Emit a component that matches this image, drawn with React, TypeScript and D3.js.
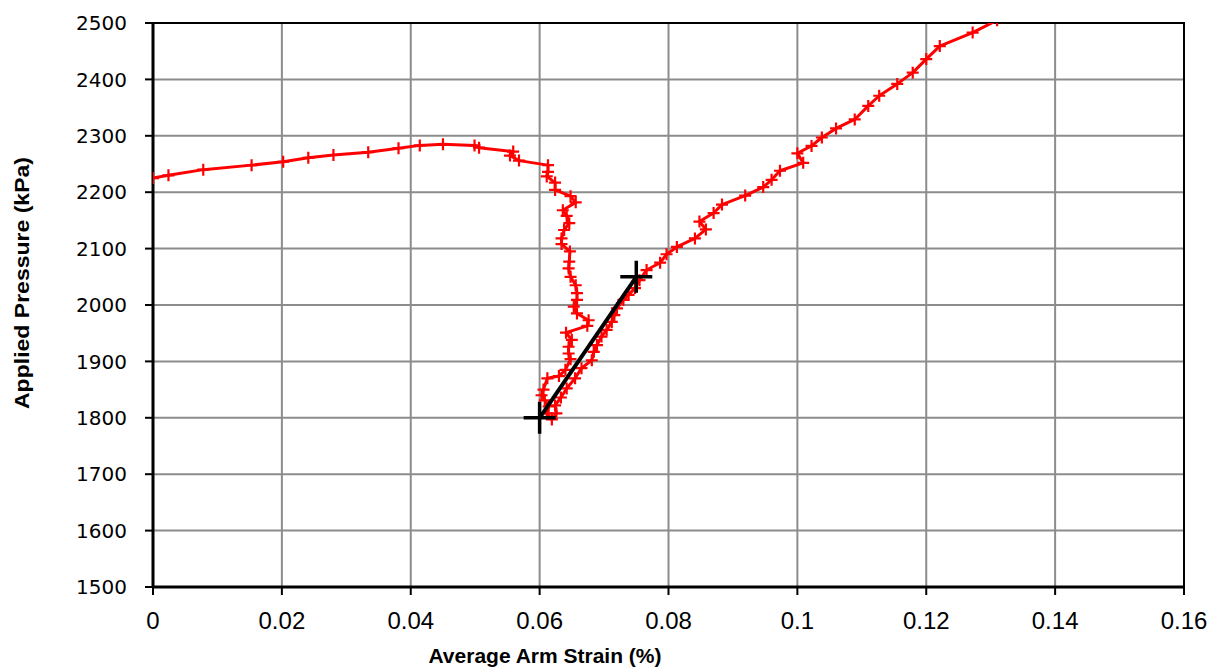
import React, { useEffect, useRef } from "react";
import * as d3 from "d3";

// Average arm strain (%) and applied pressure (kPa) of the measured trace
const strain = [
  0, 0.0024, 0.0078, 0.0153, 0.0202, 0.0241, 0.028, 0.0334, 0.0381, 0.0414,
  0.045, 0.0499, 0.0506, 0.0559, 0.0554, 0.0568, 0.0613, 0.0613, 0.0611, 0.0624,
  0.0624, 0.0648, 0.0656, 0.0636, 0.0642, 0.0646, 0.0638, 0.0634, 0.0634, 0.0647,
  0.0646, 0.0645, 0.0648, 0.0656, 0.0658, 0.0658, 0.0653, 0.0658, 0.0676, 0.0674,
  0.0641, 0.065, 0.0645, 0.0645, 0.0648, 0.064, 0.063, 0.0612, 0.0606, 0.0603,
  0.0608, 0.0614, 0.0611, 0.0619, 0.0626, 0.0624, 0.0633, 0.0642, 0.0655, 0.0665,
  0.0681, 0.0684, 0.0689, 0.0696, 0.0704, 0.0712, 0.0716, 0.072, 0.073, 0.0738,
  0.0748, 0.0755, 0.0766, 0.0787, 0.0797, 0.0813, 0.0841, 0.0858, 0.0848, 0.087,
  0.0883, 0.0919, 0.0947, 0.096, 0.0973, 0.1009, 0.1, 0.1022, 0.1038, 0.106,
  0.1089, 0.111, 0.1127, 0.1155, 0.1179, 0.12, 0.1221, 0.1272, 0.131,
];
const pressure = [
  2225, 2230, 2240, 2248, 2254, 2261, 2266, 2271, 2278, 2283,
  2285, 2283, 2279, 2272, 2265, 2256, 2248, 2236, 2228, 2217,
  2204, 2193, 2182, 2168, 2158, 2145, 2133, 2118, 2108, 2095,
  2077, 2065, 2050, 2035, 2021, 2009, 1997, 1985, 1973, 1963,
  1951, 1938, 1926, 1914, 1904, 1885, 1874, 1870, 1850, 1840,
  1831, 1820, 1808, 1797, 1808, 1822, 1836, 1852, 1870, 1888,
  1902, 1917, 1929, 1944, 1956, 1970, 1982, 1994, 2009, 2018,
  2030, 2044, 2062, 2075, 2090, 2103, 2118, 2134, 2148, 2163,
  2178, 2194, 2209, 2222, 2238, 2252, 2269, 2282, 2297, 2313,
  2329, 2353, 2371, 2392, 2412, 2436, 2459, 2483, 2505,
];

// Linear fit segment endpoints
const fitStrain = [0.06, 0.075];
const fitPressure = [1800, 2050];

const xTicks = [0, 0.02, 0.04, 0.06, 0.08, 0.1, 0.12, 0.14, 0.16];
const yTicks = [1500, 1600, 1700, 1800, 1900, 2000, 2100, 2200, 2300, 2400, 2500];

const W = 1210;
const H = 670;
const left = 153;
const right = 1184;
const top = 23;
const bottom = 587;

export default function App() {
  const ref = useRef<SVGSVGElement | null>(null);

  useEffect(() => {
    document.body.style.margin = "0";
    const svg = d3.select(ref.current);
    svg.selectAll("*").remove();

    const x = d3.scaleLinear().domain([0, 0.16]).range([left, right]);
    const y = d3.scaleLinear().domain([1500, 2500]).range([bottom, top]);

    svg.append("rect").attr("width", W).attr("height", H).attr("fill", "#fff");

    svg
      .append("defs")
      .append("clipPath")
      .attr("id", "plot-clip")
      .append("rect")
      .attr("x", left)
      .attr("y", top)
      .attr("width", right - left)
      .attr("height", bottom - top);

    // grid
    const grid = svg.append("g").attr("stroke", "#8c8c8c").attr("stroke-width", 2);
    xTicks.slice(1, -1).forEach((t) => {
      grid.append("line").attr("x1", x(t)).attr("x2", x(t)).attr("y1", top).attr("y2", bottom);
    });
    yTicks.slice(1, -1).forEach((t) => {
      grid.append("line").attr("x1", left).attr("x2", right).attr("y1", y(t)).attr("y2", y(t));
    });

    // top and right border
    svg
      .append("path")
      .attr("d", `M${left},${top}H${right}V${bottom}`)
      .attr("fill", "none")
      .attr("stroke", "#000")
      .attr("stroke-width", 2);

    // axes
    const axes = svg.append("g").attr("stroke", "#000");
    axes.append("line").attr("x1", left).attr("x2", left).attr("y1", top - 1).attr("y2", bottom + 1).attr("stroke-width", 3);
    axes.append("line").attr("x1", left - 1).attr("x2", right + 1).attr("y1", bottom).attr("y2", bottom).attr("stroke-width", 3);
    yTicks.forEach((t) => {
      axes.append("line").attr("x1", left - 8).attr("x2", left).attr("y1", y(t)).attr("y2", y(t)).attr("stroke-width", 2);
    });
    xTicks.forEach((t) => {
      axes.append("line").attr("x1", x(t)).attr("x2", x(t)).attr("y1", bottom).attr("y2", bottom + 8).attr("stroke-width", 2);
    });

    // tick labels
    svg
      .append("g")
      .selectAll("text")
      .data(yTicks)
      .join("text")
      .attr("x", 127)
      .attr("y", (d) => y(d))
      .attr("dy", "0.36em")
      .attr("text-anchor", "end")
      .attr("font-family", "'DejaVu Sans', sans-serif")
      .attr("font-size", 20)
      .attr("fill", "#000")
      .text((d) => String(d));

    svg
      .append("g")
      .selectAll("text")
      .data(xTicks)
      .join("text")
      .attr("x", (d) => x(d))
      .attr("y", 629)
      .attr("text-anchor", "middle")
      .attr("font-family", "'Liberation Sans', Arial, sans-serif")
      .attr("font-size", 24)
      .attr("fill", "#000")
      .text((d) => String(d));

    // axis titles
    svg
      .append("text")
      .attr("transform", "translate(29,283) rotate(-90)")
      .attr("text-anchor", "middle")
      .attr("font-family", "'Liberation Sans', Arial, sans-serif")
      .attr("font-weight", "bold")
      .attr("font-size", 21)
      .attr("textLength", 252)
      .attr("lengthAdjust", "spacingAndGlyphs")
      .attr("fill", "#000")
      .text("Applied Pressure (kPa)");

    svg
      .append("text")
      .attr("x", 545)
      .attr("y", 663)
      .attr("text-anchor", "middle")
      .attr("font-family", "'Liberation Sans', Arial, sans-serif")
      .attr("font-weight", "bold")
      .attr("font-size", 21)
      .attr("fill", "#000")
      .text("Average Arm Strain (%)");

    // measured trace
    const pts: [number, number][] = strain.map((s, i) => [s, pressure[i]]);
    const line = d3
      .line<[number, number]>()
      .x((d) => x(d[0]))
      .y((d) => y(d[1]));

    const plot = svg.append("g").attr("clip-path", "url(#plot-clip)");
    plot
      .append("path")
      .datum(pts)
      .attr("d", line)
      .attr("fill", "none")
      .attr("stroke", "#ff0000")
      .attr("stroke-width", 3)
      .attr("stroke-linejoin", "round");

    const m = 6;
    plot
      .append("g")
      .attr("stroke", "#ff0000")
      .attr("stroke-width", 2.2)
      .selectAll("path")
      .data(pts)
      .join("path")
      .attr("d", (d) => {
        const cx = x(d[0]);
        const cy = y(d[1]);
        return `M${cx - m},${cy}H${cx + m}M${cx},${cy - m}V${cy + m}`;
      });

    // fit segment
    const fit: [number, number][] = fitStrain.map((s, i) => [s, fitPressure[i]]);
    svg
      .append("path")
      .datum(fit)
      .attr("d", line)
      .attr("fill", "none")
      .attr("stroke", "#000")
      .attr("stroke-width", 4);
    const b = 16;
    svg
      .append("g")
      .attr("stroke", "#000")
      .attr("stroke-width", 3.5)
      .selectAll("path")
      .data(fit)
      .join("path")
      .attr("d", (d) => {
        const cx = x(d[0]);
        const cy = y(d[1]);
        return `M${cx - b},${cy}H${cx + b}M${cx},${cy - b}V${cy + b}`;
      });
  }, []);

  return (
    <svg
      ref={ref}
      width={W}
      height={H}
      style={{ display: "block", position: "absolute", left: 0, top: 0 }}
    />
  );
}
